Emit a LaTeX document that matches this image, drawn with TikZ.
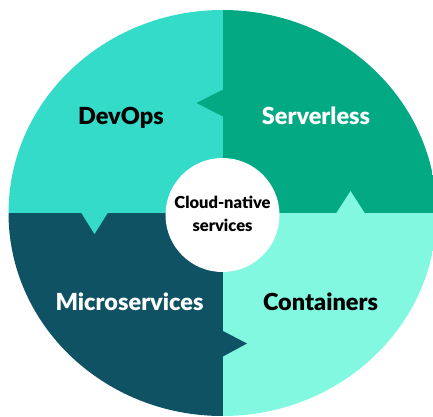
\documentclass[tikz,border=0pt]{standalone}
\usepackage{fontspec}
\setmainfont{Lato}[BoldFont={Lato Black}]
\definecolor{devopsc}{HTML}{34DBC8}
\definecolor{serverlessc}{HTML}{02A982}
\definecolor{microc}{HTML}{0F5264}
\definecolor{containerc}{HTML}{82F8E1}
\begin{document}
\begin{tikzpicture}[x=1pt, y=-1pt,
        quadtext/.style = {font=\bfseries\fontsize{23.5}{28}\selectfont, inner sep=0pt},
        coretext/.style = {font=\bfseries\fontsize{16.5}{22.5}\selectfont, align=center}]
        \useasboundingbox (0, 0) rectangle (433, 416);
        \begin{scope}
        \clip (0, 0) rectangle (433, 416);
        \clip (222.5, 213) ellipse [x radius=214, y radius=203];
        \fill[devopsc] (222.5, 213) rectangle (0, 0);
        \fill[serverlessc] (222.5, 213) rectangle (433, 0);
        \fill[microc] (222.5, 213) rectangle (0, 416);
        \fill[containerc] (222.5, 213) rectangle (433, 416);
        \end{scope}
        \fill[serverlessc] (223, 89.5) -- (196.5, 103) -- (223, 116.5) -- cycle;
        \fill[devopsc] (81, 212.5) -- (94.5, 234) -- (108, 212.5) -- cycle;
        \fill[containerc] (336, 213.5) -- (350.5, 191) -- (365, 213.5) -- cycle;
        \fill[microc] (222, 330.5) -- (247, 343.5) -- (222, 357) -- cycle;
        \node[circle, fill=white, minimum size=114pt, inner sep=0pt] (core) at (222.5, 215) {};
        \node[coretext] (coretxt) at (222.5, 214) {Cloud-native\\services};
        \node[quadtext, text=black] (devops) at (121, 118) {DevOps};
        \node[quadtext, text=white] (serverless) at (316, 116) {Serverless};
        \node[quadtext, text=white] (micro) at (129.5, 302) {Microservices};
        \node[quadtext, text=black] (containers) at (320.5, 302) {Containers};
\end{tikzpicture}
\end{document}
